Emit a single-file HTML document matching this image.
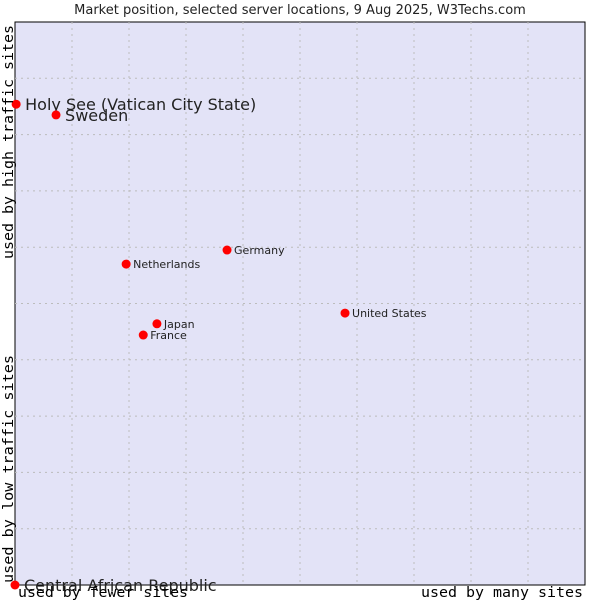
<!DOCTYPE html>
<html><head><meta charset="utf-8"><style>
body{margin:0;background:#fff;width:600px;height:600px;overflow:hidden}
text{font-family:"DejaVu Sans","Liberation Sans",sans-serif;fill:#222}
.mono{font-family:"DejaVu Sans Mono","Liberation Mono",monospace;fill:#000}
</style></head><body>
<svg id="chart" width="600" height="600" xmlns="http://www.w3.org/2000/svg">
<text x="300" y="14" text-anchor="middle" font-size="13">Market position, selected server locations, 9 Aug 2025, W3Techs.com</text>
<rect x="15" y="22" width="570" height="563" fill="#e3e3f7" stroke="#000" stroke-width="1"/>
<g id="grid"></g>
<g id="points"></g>
<text class="mono" x="18" y="597" font-size="14" textLength="170" lengthAdjust="spacingAndGlyphs">used by fewer sites</text>
<text class="mono" x="421" y="597" font-size="14" textLength="162" lengthAdjust="spacingAndGlyphs">used by many sites</text>
<text class="mono" transform="translate(13,259) rotate(-90)" font-size="14" textLength="234" lengthAdjust="spacingAndGlyphs">used by high traffic sites</text>
<text class="mono" transform="translate(13,583) rotate(-90)" font-size="14" textLength="228" lengthAdjust="spacingAndGlyphs">used by low traffic sites</text>
</svg>
<script>
const countries=["Holy See (Vatican City State)","Sweden","Netherlands","Germany","United States","Japan","France","Central African Republic"];
const xValues=[0.2,7.2,19.5,37.2,57.9,24.9,22.5,0];
const yValues=[85.4,83.5,57.0,59.5,48.3,46.4,44.4,0];
const bigLabel=[true,true,false,false,false,false,false,true];
const NS="http://www.w3.org/2000/svg";
const L=15,R=585,T=22,B=585;
const sx=v=>L+v/100*(R-L), sy=v=>B-v/100*(B-T);
const grid=document.getElementById('grid');
for(let i=1;i<10;i++){
  const v=document.createElementNS(NS,'line');
  
  
  v.setAttribute('x1',sx(i*10));v.setAttribute('x2',sx(i*10));v.setAttribute('y1',T);v.setAttribute('y2',B);
  v.setAttribute('stroke','#bcbcbc');v.setAttribute('stroke-dasharray','2,4');grid.appendChild(v);
  const h=document.createElementNS(NS,'line');
  
  
  h.setAttribute('y1',sy(i*10));h.setAttribute('y2',sy(i*10));h.setAttribute('x1',L);h.setAttribute('x2',R);
  h.setAttribute('stroke','#bcbcbc');h.setAttribute('stroke-dasharray','2,4');grid.appendChild(h);
}
const pts=document.getElementById('points');
countries.forEach((c,i)=>{
  const x=sx(xValues[i]),y=sy(yValues[i]);
  const m=document.createElementNS(NS,'circle');
  
  
  m.setAttribute('cx',x);m.setAttribute('cy',y);m.setAttribute('r',4.5);
  m.setAttribute('fill','#f00');pts.appendChild(m);
  const t=document.createElementNS(NS,'text');
  
  
  t.setAttribute('x',x+(bigLabel[i]?9:7));t.setAttribute('y',y+(bigLabel[i]?6:4));
  t.setAttribute('font-size',bigLabel[i]?16:11);
  t.textContent=c;pts.appendChild(t);
});
</script>
</body></html>
